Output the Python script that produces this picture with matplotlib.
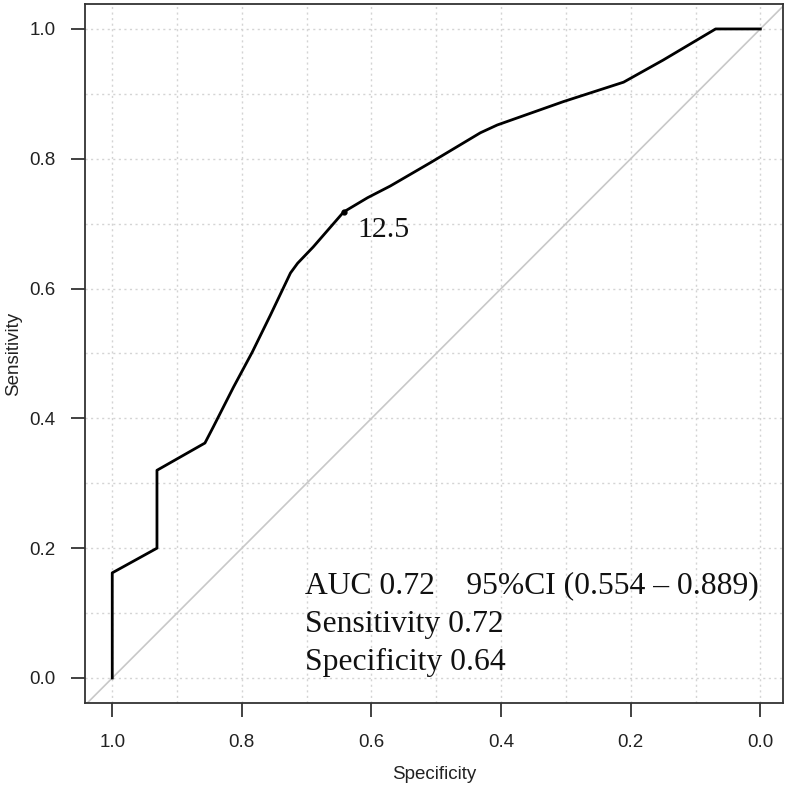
import numpy as np
import matplotlib.pyplot as plt

# ROC curve points (specificity, sensitivity)
specificity = [1.0, 1.0, 0.931, 0.931, 0.857, 0.844, 0.813, 0.784, 0.756, 0.725, 0.714,
               0.690, 0.643, 0.606, 0.571, 0.509, 0.432, 0.406, 0.304, 0.211, 0.150,
               0.069, 0.0]
sensitivity = [0.0, 0.162, 0.200, 0.320, 0.362, 0.387, 0.448, 0.502, 0.559, 0.624, 0.639,
               0.664, 0.718, 0.740, 0.758, 0.794, 0.840, 0.852, 0.888, 0.918, 0.952,
               1.0, 1.0]

cutoff_label = '12.5'
cutoff_spec = 0.643
cutoff_sens = 0.718

tick_values = [1.0, 0.8, 0.6, 0.4, 0.2, 0.0]
tick_labels = ['1.0', '0.8', '0.6', '0.4', '0.2', '0.0']
grid_values = np.round(np.arange(0, 11) / 10, 1)

info_lines = ['AUC 0.72    95%CI (0.554 \u2013 0.889)',
              'Sensitivity 0.72',
              'Specificity 0.64']

plt.rcParams['font.family'] = ['Liberation Sans', 'DejaVu Sans']

fig = plt.figure(figsize=(7.91, 7.92), dpi=100)
ax = fig.add_axes([0.1075, 0.1124, 0.8824, 0.8826])

ax.set_xlim(1.042, -0.035)
ax.set_ylim(-0.0385, 1.0385)

# grid every 0.1
for g in grid_values:
    ax.axvline(g, color='#d4d4d4', lw=1.0, ls=(0, (1.5, 2.5)), zorder=0)
    ax.axhline(g, color='#d4d4d4', lw=1.0, ls=(0, (1.5, 2.5)), zorder=0)

# chance line
ax.axline((1.0, 0.0), (0.0, 1.0), color='#c8c8c8', lw=1.2, zorder=1)

ax.plot(specificity, sensitivity, color='black', lw=2.0, zorder=3)
ax.plot([cutoff_spec], [cutoff_sens], 'o', color='black', ms=3.5, zorder=4)
ax.text(0.622, 0.6795, cutoff_label, family='Liberation Serif',
        fontsize=21.5, ha='left', va='baseline', color='#111111')

# text block
for i, line in enumerate(info_lines):
    ax.text(0.702, 0.131 - i * 0.0595, line, family='Liberation Serif', fontsize=22.8,
            ha='left', va='baseline', color='#111111')

ax.set_xticks(tick_values)
ax.set_xticklabels(tick_labels)
ax.set_yticks(tick_values)
ax.set_yticklabels(tick_labels)
ax.tick_params(axis='both', direction='out', length=10, width=1.3, labelsize=13.5,
               colors='#333333', labelcolor='#222222')
ax.tick_params(axis='x', pad=12)
ax.tick_params(axis='y', pad=11)

for s in ax.spines.values():
    s.set_linewidth(1.3)
    s.set_color('#333333')

ax.set_xlabel('Specificity', fontsize=13.5, color='#222222')
ax.set_ylabel('Sensitivity', fontsize=13.5, color='#222222')
ax.xaxis.set_label_coords(0.5, -0.103)
ax.yaxis.set_label_coords(-0.102, 0.5)
ax.xaxis.label.set_va('center')
ax.yaxis.label.set_va('center')

fig.savefig('out.png', dpi=100)
